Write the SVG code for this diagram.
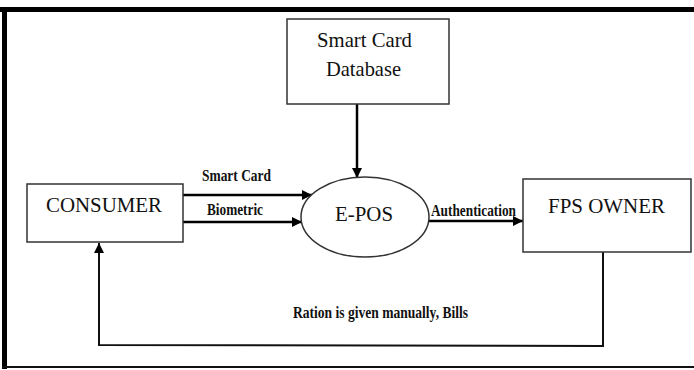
<svg xmlns="http://www.w3.org/2000/svg" width="694" height="370" viewBox="0 0 694 370">
<style>
.box{fill:#fff;stroke:#333;stroke-width:1.5}
.node{font-family:"Liberation Serif","Times New Roman",serif;font-size:22px;fill:#111}
.lbl{font-family:"Liberation Serif","Times New Roman",serif;font-size:16px;font-weight:bold;fill:#111}
.conn{fill:none;stroke:#000;stroke-width:2.5}
.loop{fill:none;stroke:#111;stroke-width:2}
</style>
<defs>
<marker id="ah" viewBox="0 0 10 10" refX="10" refY="5" markerWidth="4" markerHeight="4" markerUnits="strokeWidth" orient="auto">
<path d="M0,0 L10,5 L0,10 z" fill="#000"/>
</marker>
<marker id="ah2" viewBox="0 0 10 10" refX="10" refY="5" markerWidth="5" markerHeight="5" markerUnits="strokeWidth" orient="auto">
<path d="M0,0 L10,5 L0,10 z" fill="#000"/>
</marker>
</defs>
<rect width="694" height="370" fill="#fff"/>
<g id="frame">
<rect x="0" y="7" width="694" height="5" fill="#000"/>
<rect x="2" y="7" width="5" height="362" fill="#000"/>
<rect x="2" y="366" width="692" height="2" fill="#111"/>
</g>
<g id="connectors">
<line class="conn" x1="357" y1="104" x2="357" y2="178" marker-end="url(#ah)"/>
<line class="conn" x1="183" y1="195" x2="312" y2="195" marker-end="url(#ah)"/>
<line class="conn" x1="183" y1="222" x2="302" y2="222" marker-end="url(#ah)"/>
<line class="conn" x1="428" y1="221" x2="523" y2="221" marker-end="url(#ah)"/>
<polyline class="loop" points="603,252 603,346 99,345 99,243" marker-end="url(#ah2)"/>
<text class="lbl" x="202" y="181" textLength="69" lengthAdjust="spacingAndGlyphs">Smart Card</text>
<text class="lbl" x="207" y="215" textLength="56" lengthAdjust="spacingAndGlyphs">Biometric</text>
<text class="lbl" x="431" y="216" textLength="85" lengthAdjust="spacingAndGlyphs">Authentication</text>
<text class="lbl" x="293" y="318" textLength="175" lengthAdjust="spacingAndGlyphs">Ration is given manually, Bills</text>
</g>
<g id="smartcard-db">
<rect class="box" x="287" y="19" width="162" height="85"/>
<text class="node" x="317" y="47" textLength="95" lengthAdjust="spacingAndGlyphs">Smart Card</text>
<text class="node" x="326" y="76" textLength="75" lengthAdjust="spacingAndGlyphs">Database</text>
</g>
<g id="consumer">
<rect class="box" x="27" y="184" width="156" height="58"/>
<text class="node" x="46" y="212" textLength="116" lengthAdjust="spacingAndGlyphs">CONSUMER</text>
</g>
<g id="epos">
<ellipse class="box" cx="365" cy="217" rx="64" ry="40"/>
<text class="node" x="335" y="221" textLength="58" lengthAdjust="spacingAndGlyphs">E-POS</text>
</g>
<g id="fps-owner">
<rect class="box" x="523" y="179" width="168" height="73"/>
<text class="node" x="548" y="213" textLength="117" lengthAdjust="spacingAndGlyphs">FPS OWNER</text>
</g>
</svg>
